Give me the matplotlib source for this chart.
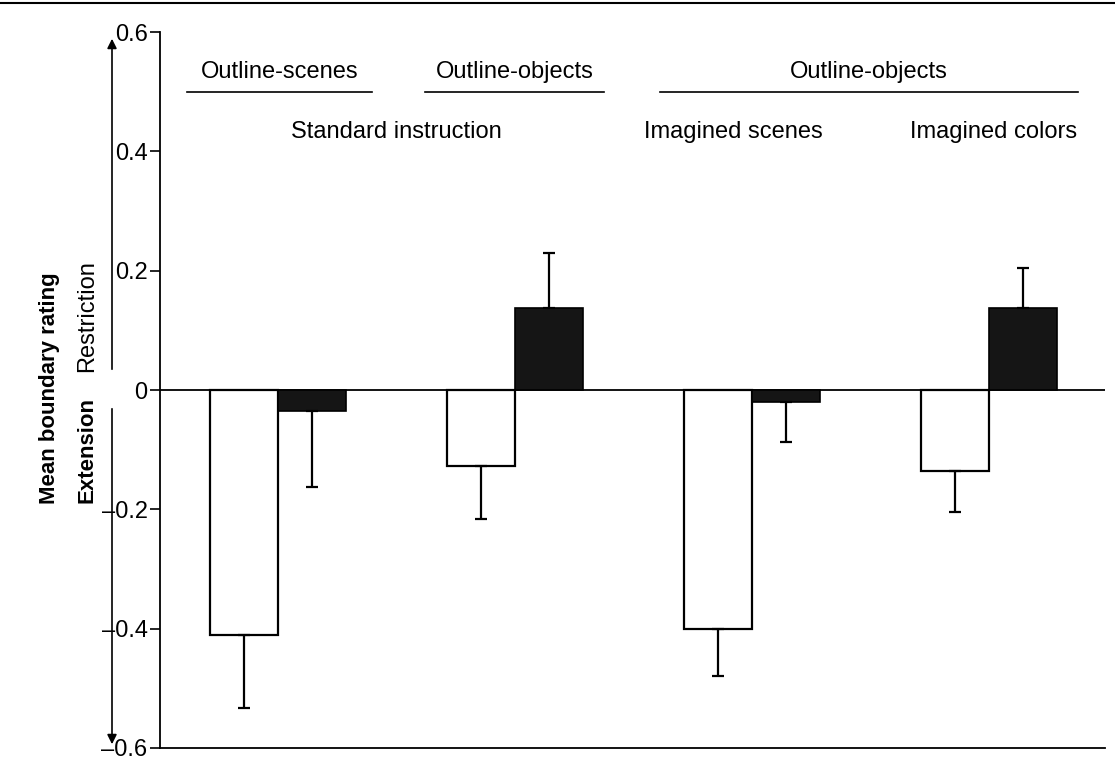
"""
Mean boundary rating per condition: outline-scenes vs outline-objects,
standard instruction vs imagined scenes / imagined colors.
White and black bars per condition, one-sided error bars.
"""
import matplotlib
import numpy as np

matplotlib.use('Agg')
import matplotlib.pyplot as plt  # noqa: E402

plt.rcParams['font.family'] = ['Liberation Sans', 'DejaVu Sans']

CONDITIONS = ['Outline-scenes', 'Outline-objects',
              'Outline-objects / imagined scenes', 'Outline-objects / imagined colors']
WHITE = [-0.41, -0.128, -0.40, -0.136]
WHITE_ERR = [0.123, 0.089, 0.079, 0.069]
BLACK = [-0.036, 0.138, -0.020, 0.138]
BLACK_ERR = [0.127, 0.092, 0.067, 0.067]
YTICKS = [0.6, 0.4, 0.2, 0, -0.2, -0.4, -0.6]
YTICK_LABELS = ['0.6', '0.4', '0.2', '0', '\u20130.2', '\u20130.4', '\u20130.6']

W = 0.287
FS = 17

fig = plt.figure(figsize=(11.15, 7.57), dpi=100)
ax = fig.add_axes([0.1435, 0.0119, 0.8475, 0.9458])

x = np.arange(len(CONDITIONS))
xw = x - W / 2
xb = x + W / 2

ax.bar(xw, WHITE, width=W, color='white', edgecolor='black', linewidth=1.6, zorder=2)
ax.bar(xb, BLACK, width=W, color='#151515', edgecolor='black', linewidth=1.2, zorder=2)


def one_sided(vals, errs):
    lo = [e if v < 0 else 0 for v, e in zip(vals, errs)]
    hi = [e if v >= 0 else 0 for v, e in zip(vals, errs)]
    return [lo, hi]


for xs, vals, errs in [(xw, WHITE, WHITE_ERR), (xb, BLACK, BLACK_ERR)]:
    ax.errorbar(xs, vals, yerr=one_sided(vals, errs), fmt='none', ecolor='black',
                elinewidth=1.6, capsize=4.5, capthick=1.6, zorder=3)

ax.axhline(0, color='black', lw=1.3, zorder=1)

ax.set_xlim(-0.5, 3.49)
ax.set_ylim(-0.6, 0.6)
ax.set_xticks([])
ax.set_yticks(YTICKS)
ax.set_yticklabels(YTICK_LABELS, fontsize=FS)
ax.tick_params(axis='y', direction='out', length=7.5, width=1.2, pad=1.5)
for s in ['top', 'right']:
    ax.spines[s].set_visible(False)
ax.spines['left'].set_linewidth(1.3)
ax.spines['bottom'].set_linewidth(1.3)

# group headers
headers = [('Outline-scenes', -0.384, 0.397), ('Outline-objects', 0.62, 1.376),
           ('Outline-objects', 1.612, 3.376)]
for txt, a, b in headers:
    ax.text((a + b) / 2, 0.533, txt, ha='center', va='center', fontsize=FS)
    ax.plot([a, b], [0.50, 0.50], color='black', lw=1.2)
ax.text(0.5, 0.433, 'Standard instruction', ha='center', va='center', fontsize=FS)
ax.text(1.92, 0.433, 'Imagined scenes', ha='center', va='center', fontsize=FS)
ax.text(3.02, 0.433, 'Imagined colors', ha='center', va='center', fontsize=FS)

# left-hand direction arrows and labels (figure coords)
ax_x = 112 / 1115
fig.add_artist(matplotlib.patches.FancyArrowPatch(
    (ax_x, 1 - 372 / 757), (ax_x, 1 - 36 / 757), transform=fig.transFigure,
    arrowstyle='-|>', mutation_scale=14, color='black', lw=1.2))
fig.add_artist(matplotlib.patches.FancyArrowPatch(
    (ax_x, 1 - 406 / 757), (ax_x, 1 - 747 / 757), transform=fig.transFigure,
    arrowstyle='-|>', mutation_scale=14, color='black', lw=1.2))
fig.text(87 / 1115, 1 - 316 / 757, 'Restriction', rotation=90, ha='center',
         va='center', fontsize=FS)
fig.text(87 / 1115, 1 - 450 / 757, 'Extension', rotation=90, ha='center',
         va='center', fontsize=FS - 1, fontweight='bold')
fig.text(50 / 1115, 1 - 388 / 757, 'Mean boundary rating', rotation=90,
         ha='center', va='center', fontsize=FS - 1, fontweight='bold')

# page frame line at the top
fig.add_artist(matplotlib.lines.Line2D([0, 1], [1 - 3 / 757, 1 - 3 / 757],
                                       transform=fig.transFigure, color='black', lw=1.5))

fig.savefig('out.png', dpi=100)
